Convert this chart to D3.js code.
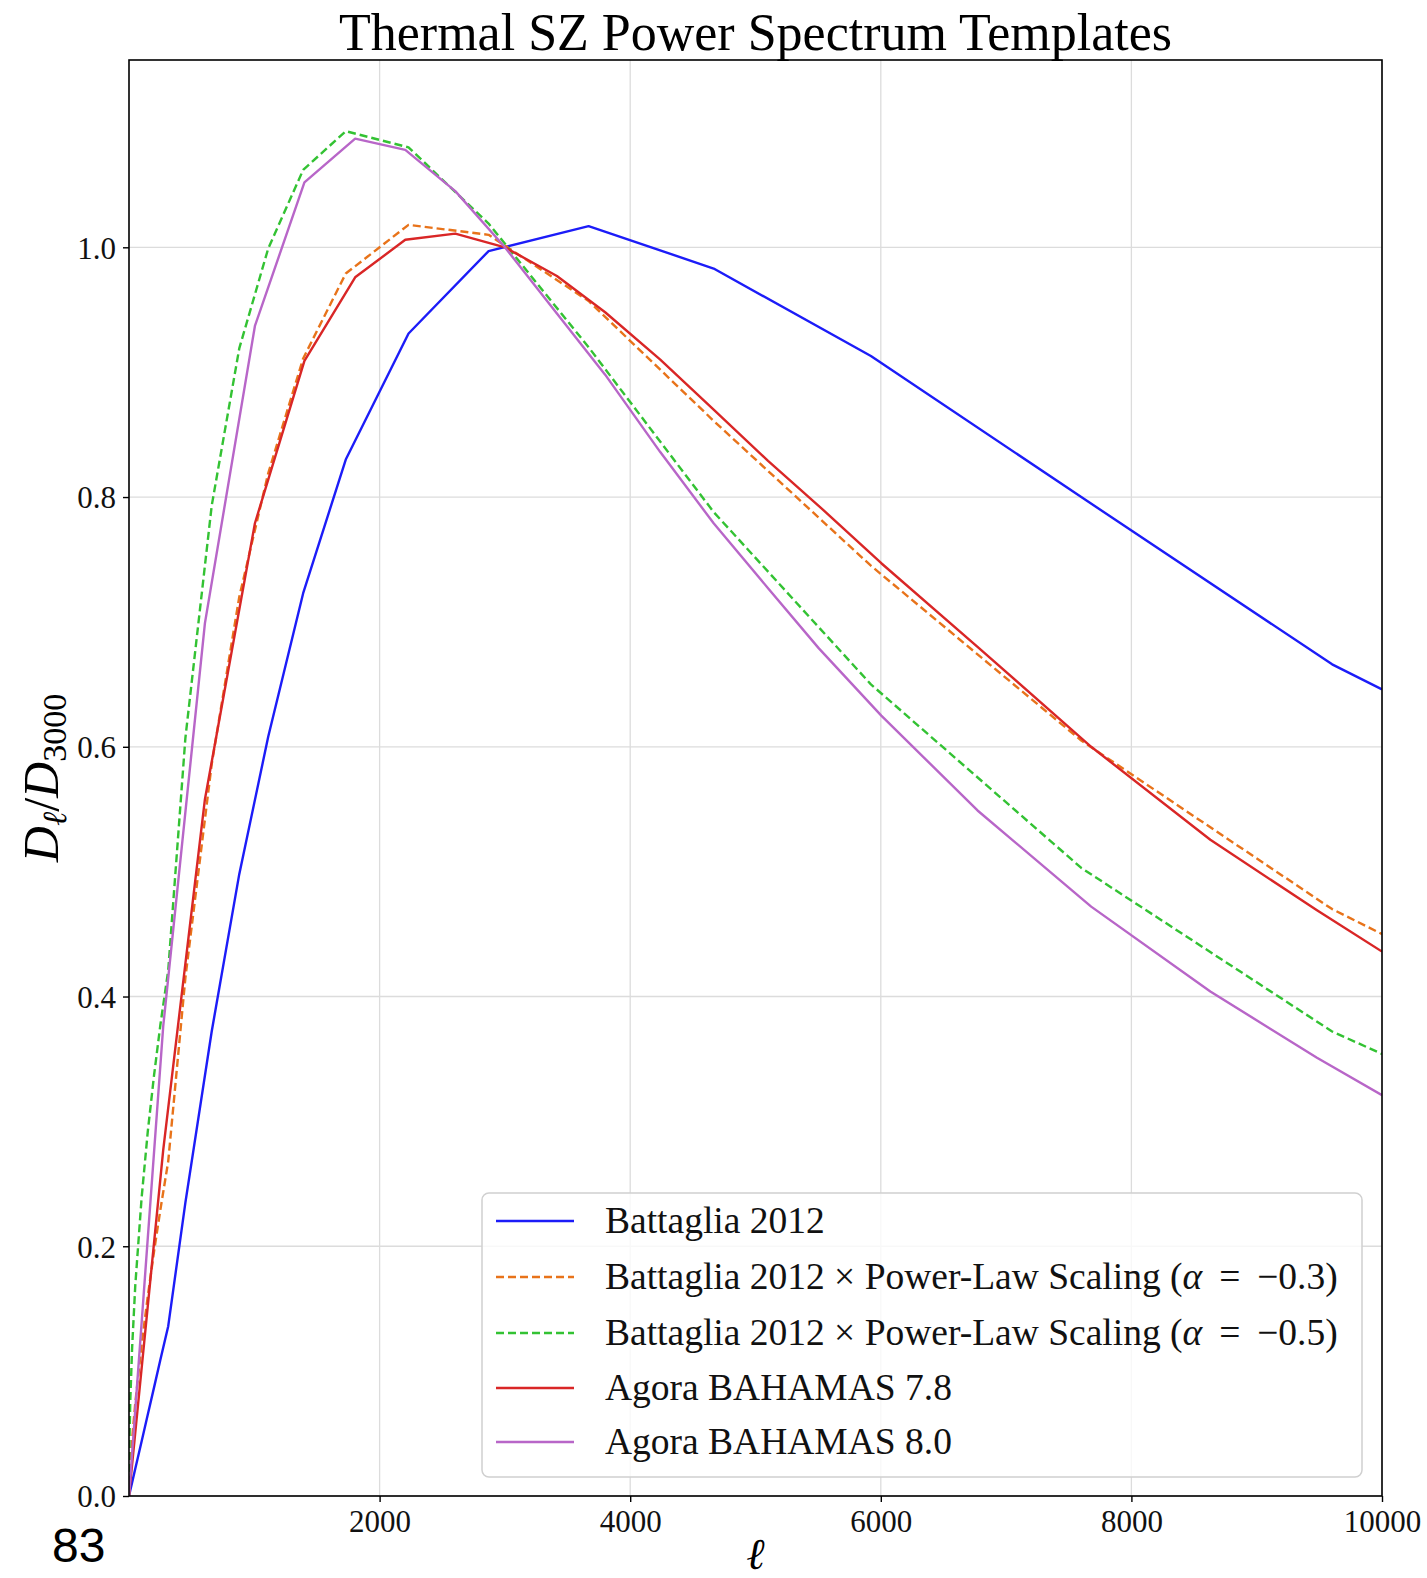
<!DOCTYPE html>
<html>
<head>
<meta charset="utf-8">
<script src="https://cdn.jsdelivr.net/npm/d3@7"></script>
<style>
  html, body { margin: 0; padding: 0; background: #fff; }
  svg { display: block; }
</style>
</head>
<body>
<svg id="chart" width="1427" height="1578"></svg>
<script>
// ---------- data ----------
const ellBattaglia = [0, 2, 10, 25, 50, 100, 150, 200, 250, 313, 450, 660, 880, 1111, 1390, 1730, 2231, 2870, 3668, 4666, 5921, 7600, 9602, 10000];
const battaglia2012 = [0, 0.0009, 0.0044, 0.0109, 0.0218, 0.0435, 0.0653, 0.087, 0.109, 0.136, 0.235, 0.372, 0.498, 0.608, 0.723, 0.830, 0.931, 0.997, 1.017, 0.983, 0.913, 0.800, 0.666, 0.646];
const battagliaAlpha03 = [0, 0.0078, 0.0241, 0.0457, 0.0742, 0.1206, 0.160, 0.196, 0.229, 0.268, 0.415, 0.586, 0.720, 0.819, 0.911, 0.979, 1.018, 1.010, 0.957, 0.861, 0.745, 0.605, 0.470, 0.450];
const battagliaAlpha05 = [0, 0.0337, 0.0754, 0.119, 0.1685, 0.238, 0.292, 0.337, 0.377, 0.421, 0.607, 0.793, 0.919, 0.999, 1.062, 1.093, 1.080, 1.019, 0.920, 0.788, 0.650, 0.503, 0.372, 0.354];

const ellAgora = [0, 273, 606, 1005, 1400, 1805, 2205, 2604, 3000, 3415, 3800, 4240, 4666, 5100, 5504, 6004, 6772, 7679, 8630, 9481, 10000];
const agora78 = [0, 0.277, 0.558, 0.779, 0.909, 0.976, 1.006, 1.011, 1.000, 0.977, 0.948, 0.910, 0.870, 0.829, 0.793, 0.747, 0.680, 0.600, 0.5255, 0.469, 0.436];
const agora80 = [0, 0.376, 0.699, 0.937, 1.052, 1.087, 1.078, 1.045, 1.000, 0.947, 0.898, 0.836, 0.779, 0.727, 0.679, 0.625, 0.549, 0.472, 0.404, 0.351, 0.321];

const xTicks = [2000, 4000, 6000, 8000, 10000];
const xTickLabels = ["2000", "4000", "6000", "8000", "10000"];
const yTicks = [0.0, 0.2, 0.4, 0.6, 0.8, 1.0];
const yTickLabels = ["0.0", "0.2", "0.4", "0.6", "0.8", "1.0"];

const seriesNames = [
  "Battaglia 2012",
  "Battaglia 2012 × Power-Law Scaling (α = −0.3)",
  "Battaglia 2012 × Power-Law Scaling (α = −0.5)",
  "Agora BAHAMAS 7.8",
  "Agora BAHAMAS 8.0"
];
const titleText = "Thermal SZ Power Spectrum Templates";

// ---------- styling ----------
const serif = "'Liberation Serif', 'Times New Roman', serif";
const series = [
  { name: seriesNames[0], ell: ellBattaglia, vals: battaglia2012, color: "#1c1cf8", dash: null },
  { name: seriesNames[1], ell: ellBattaglia, vals: battagliaAlpha03, color: "#e8731a", dash: "8,4" },
  { name: seriesNames[2], ell: ellBattaglia, vals: battagliaAlpha05, color: "#33c233", dash: "8,4" },
  { name: seriesNames[3], ell: ellAgora, vals: agora78, color: "#d92626", dash: null },
  { name: seriesNames[4], ell: ellAgora, vals: agora80, color: "#b866c8", dash: null }
];

const svg = d3.select("#chart");
const plot = { left: 129, right: 1382, top: 60, bottom: 1496 };

const x = d3.scaleLinear().domain([0, 10000]).range([plot.left, plot.right]);
const y = d3.scaleLinear().domain([0, 1.15]).range([plot.bottom, plot.top]);

// grid
const grid = svg.append("g");
grid.selectAll("line.gx").data(xTicks).enter().append("line")
  .attr("x1", d => x(d)).attr("x2", d => x(d))
  .attr("y1", plot.top).attr("y2", plot.bottom)
  .attr("stroke", "#dcdcdc").attr("stroke-width", 1.3);
grid.selectAll("line.gy").data(yTicks).enter().append("line")
  .attr("x1", plot.left).attr("x2", plot.right)
  .attr("y1", d => y(d)).attr("y2", d => y(d))
  .attr("stroke", "#dcdcdc").attr("stroke-width", 1.3);

// lines
svg.append("clipPath").attr("id", "clip").append("rect")
  .attr("x", plot.left).attr("y", plot.top)
  .attr("width", plot.right - plot.left).attr("height", plot.bottom - plot.top);

const lineGen = d3.line().x(d => x(d[0])).y(d => y(d[1]));
const linesG = svg.append("g").attr("clip-path", "url(#clip)");
series.forEach(s => {
  const pts = s.ell.map((l, i) => [l, s.vals[i]]);
  linesG.append("path")
    .attr("d", lineGen(pts))
    .attr("fill", "none")
    .attr("stroke", s.color)
    .attr("stroke-width", 2.4)
    .attr("stroke-linejoin", "round")
    .attr("stroke-dasharray", s.dash);
});

// axes
const xAxis = d3.axisBottom(x).tickValues(xTicks).tickFormat((d, i) => xTickLabels[i]).tickSizeInner(6).tickSizeOuter(0).tickPadding(5);
const yAxis = d3.axisLeft(y).tickValues(yTicks).tickFormat((d, i) => yTickLabels[i]).tickSizeInner(6).tickSizeOuter(0).tickPadding(7);

const gx = svg.append("g").attr("transform", `translate(0,${plot.bottom})`).call(xAxis);
const gy = svg.append("g").attr("transform", `translate(${plot.left},0)`).call(yAxis);
[gx, gy].forEach(g => {
  g.select(".domain").remove();
  g.selectAll(".tick line").attr("stroke", "#000").attr("stroke-width", 1.4);
  g.selectAll(".tick text").attr("fill", "#111").style("font-family", serif).style("font-size", "31px");
});
gx.selectAll(".tick text").attr("dy", "0.82em");
gy.selectAll(".tick text").attr("dy", "0.35em");

// frame
svg.append("rect")
  .attr("x", plot.left).attr("y", plot.top)
  .attr("width", plot.right - plot.left).attr("height", plot.bottom - plot.top)
  .attr("fill", "none").attr("stroke", "#000").attr("stroke-width", 1.6);

// title
svg.append("text")
  .attr("x", (plot.left + plot.right) / 2).attr("y", 50)
  .attr("text-anchor", "middle")
  .style("font-family", serif).style("font-size", "52px").attr("fill", "#000")
  .text(titleText);

// y label  D_ell / D_3000
const yl = svg.append("text")
  .attr("transform", "translate(58,778) rotate(-90)")
  .attr("text-anchor", "middle")
  .style("font-family", serif).style("font-size", "50px").attr("fill", "#000");
yl.append("tspan").style("font-style", "italic").text("D");
yl.append("tspan").style("font-style", "italic").style("font-size", "34px").attr("dy", 8).text("ℓ");
yl.append("tspan").attr("dy", -8).text("/");
yl.append("tspan").style("font-style", "italic").text("D");
yl.append("tspan").style("font-size", "34px").attr("dy", 8).text("3000");

// x label
svg.append("text")
  .attr("x", (plot.left + plot.right) / 2).attr("y", 1569)
  .attr("text-anchor", "middle")
  .style("font-family", serif).style("font-style", "italic").style("font-size", "44px").attr("fill", "#000")
  .text("ℓ");

// stray page number
svg.append("text")
  .attr("x", 52).attr("y", 1562)
  .style("font-family", "'Liberation Sans', Arial, sans-serif").style("font-size", "48px").attr("fill", "#000")
  .text("83");

// legend
const leg = svg.append("g");
leg.append("rect")
  .attr("x", 482).attr("y", 1193).attr("width", 880).attr("height", 284)
  .attr("rx", 7).attr("ry", 7)
  .attr("fill", "#fff").attr("fill-opacity", 0.8)
  .attr("stroke", "#d0d0d0").attr("stroke-width", 1.5);
const rowY = [1221, 1277, 1333, 1388, 1442];
series.forEach((s, i) => {
  leg.append("line")
    .attr("x1", 496).attr("x2", 574)
    .attr("y1", rowY[i]).attr("y2", rowY[i])
    .attr("stroke", s.color).attr("stroke-width", 2.4)
    .attr("stroke-dasharray", s.dash);
  const t = leg.append("text")
    .attr("x", 605).attr("y", rowY[i]).attr("dy", "0.33em")
    .style("font-family", serif).style("font-size", "37.5px").attr("fill", "#111")
    .attr("xml:space", "preserve").style("white-space", "pre");
  const m = s.name.match(/^(.*) × (.*\()α = (−[0-9.]+\))$/);
  if (m) {
    t.append("tspan").text(m[1] + " × " + m[2]);
    t.append("tspan").style("font-style", "italic").text("α");
    t.append("tspan").text(" \u2009=\u2009 " + m[3]);
  } else {
    t.text(s.name);
  }
});
</script>
</body>
</html>
